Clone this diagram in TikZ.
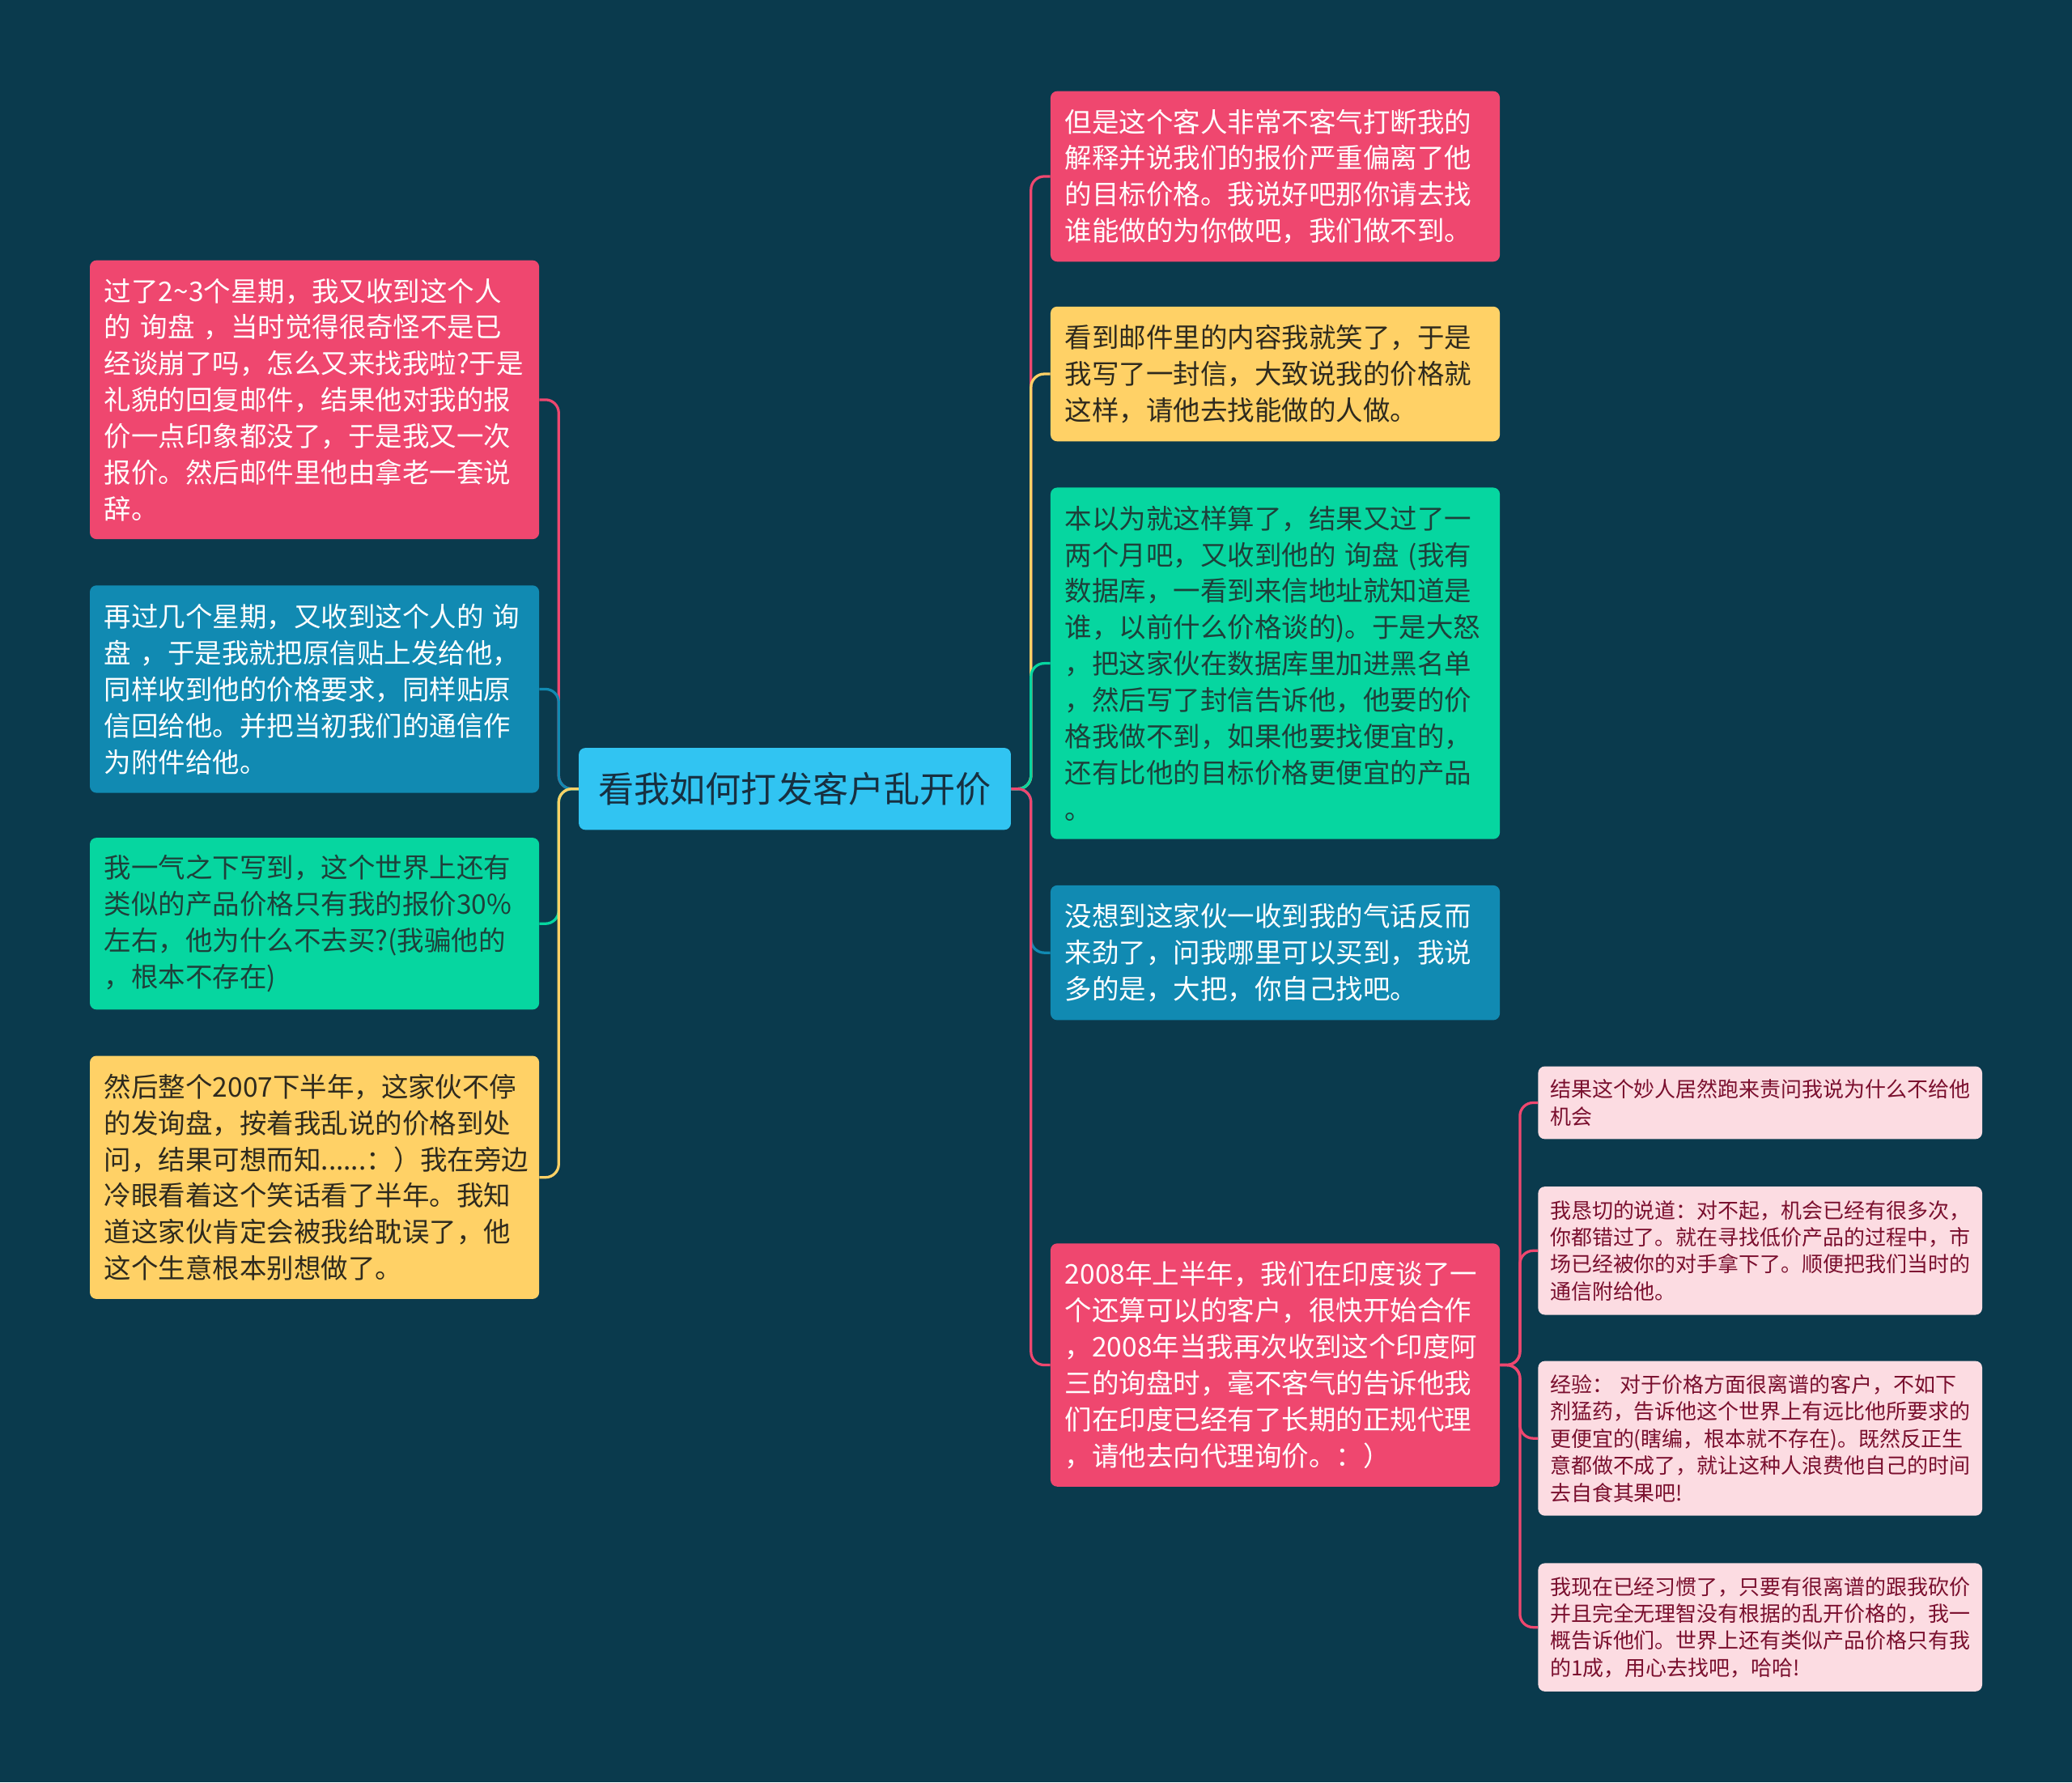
\documentclass[tikz,border=0pt]{standalone}
\usepackage{fontspec}
\setmainfont{Noto Sans CJK SC}
\definecolor{bg}{HTML}{0A3A4D}
\definecolor{cred}{HTML}{EF476F}
\definecolor{cyel}{HTML}{FFD166}
\definecolor{cgrn}{HTML}{06D6A0}
\definecolor{cblu}{HTML}{118AB2}
\definecolor{ccen}{HTML}{31C4F2}
\definecolor{csub}{HTML}{FCDCE2}
\definecolor{tsub}{HTML}{7A0F2E}
\definecolor{tdark}{HTML}{2E2A1E}
\definecolor{tgrn}{HTML}{1E403A}
\definecolor{tcen}{HTML}{173041}
\tikzset{
  box/.style={rounded corners=5pt, inner xsep=11pt, inner ysep=0pt, text width=318pt, align=left,
    font=\fontsize{20.5}{27.5}\selectfont},
  subbox/.style={rounded corners=5pt, inner xsep=9pt, inner ysep=0pt, text width=318pt, align=left,
    fill=csub, text=tsub, font=\fontsize{15.9}{20.5}\selectfont},
  link/.style={line width=2pt, rounded corners=10pt}
}
\begin{document}
\begin{tikzpicture}[x=1pt,y=-1pt]
\useasboundingbox (0,0) rectangle (1568,1349);
\fill[bg] (0,0) rectangle (1568,1349);

% centre
\node[rounded corners=5pt, fill=ccen, text=tcen, minimum width=327pt, minimum height=62pt, inner sep=0pt,
  font=\fontsize{27}{32}\selectfont] (c) at (601.5,597) {看我如何打发客户乱开价};

% left
\node[box, fill=cred, text=white, minimum height=211pt] (l1) at (238,302.5) {过了2\textasciitilde3个星期，我又收到这个人\\
的 询盘 ，当时觉得很奇怪不是已\\
经谈崩了吗，怎么又来找我啦?于是\\
礼貌的回复邮件，结果他对我的报\\
价一点印象都没了，于是我又一次\\
报价。然后邮件里他由拿老一套说\\
辞。};
\node[box, fill=cblu, text=white, minimum height=157pt] (l2) at (238,521.5) {再过几个星期，又收到这个人的 询\\
盘 ，于是我就把原信贴上发给他，\\
同样收到他的价格要求，同样贴原\\
信回给他。并把当初我们的通信作\\
为附件给他。};
\node[box, fill=cgrn, text=tgrn, minimum height=130pt] (l3) at (238,699) {我一气之下写到，这个世界上还有\\
类似的产品价格只有我的报价30\%\\
左右，他为什么不去买?(我骗他的\\
，根本不存在)};
\node[box, fill=cyel, text=tdark, minimum height=184pt] (l4) at (238,891) {然后整个2007下半年，这家伙不停\\
的发询盘，按着我乱说的价格到处\\
问，结果可想而知......：）我在旁边\\
冷眼看着这个笑话看了半年。我知\\
道这家伙肯定会被我给耽误了，他\\
这个生意根本别想做了。};

% right
\node[box, fill=cred, text=white, minimum height=129pt] (r1) at (965,133.5) {但是这个客人非常不客气打断我的\\
解释并说我们的报价严重偏离了他\\
的目标价格。我说好吧那你请去找\\
谁能做的为你做吧，我们做不到。};
\node[box, fill=cyel, text=tdark, minimum height=102pt] (r2) at (965,283) {看到邮件里的内容我就笑了，于是\\
我写了一封信，大致说我的价格就\\
这样，请他去找能做的人做。};
\node[box, fill=cgrn, text=tgrn, minimum height=266pt] (r3) at (965,502) {本以为就这样算了，结果又过了一\\
两个月吧，又收到他的 询盘 (我有\\
数据库，一看到来信地址就知道是\\
谁，以前什么价格谈的)。于是大怒\\
，把这家伙在数据库里加进黑名单\\
，然后写了封信告诉他，他要的价\\
格我做不到，如果他要找便宜的，\\
还有比他的目标价格更便宜的产品\\
。};
\node[box, fill=cblu, text=white, minimum height=102pt] (r4) at (965,721) {没想到这家伙一收到我的气话反而\\
来劲了，问我哪里可以买到，我说\\
多的是，大把，你自己找吧。};
\node[box, fill=cred, text=white, minimum height=184pt] (r5) at (965,1033) {2008年上半年，我们在印度谈了一\\
个还算可以的客户，很快开始合作\\
，2008年当我再次收到这个印度阿\\
三的询盘时，毫不客气的告诉他我\\
们在印度已经有了长期的正规代理\\
，请他去向代理询价。：）};

% sub
\node[subbox, minimum height=55pt] (s1) at (1332,834.5) {结果这个妙人居然跑来责问我说为什么不给他\\
机会};
\node[subbox, minimum height=97pt] (s2) at (1332,946.5) {我恳切的说道：对不起，机会已经有很多次，\\
你都错过了。就在寻找低价产品的过程中，市\\
场已经被你的对手拿下了。顺便把我们当时的\\
通信附给他。};
\node[subbox, minimum height=117pt] (s3) at (1332,1088.5) {经验： 对于价格方面很离谱的客户，不如下\\
剂猛药，告诉他这个世界上有远比他所要求的\\
更便宜的(瞎编，根本就不存在)。既然反正生\\
意都做不成了，就让这种人浪费他自己的时间\\
去自食其果吧!};
\node[subbox, minimum height=97pt] (s4) at (1332,1231.5) {我现在已经习惯了，只要有很离谱的跟我砍价\\
并且完全无理智没有根据的乱开价格的，我一\\
概告诉他们。世界上还有类似产品价格只有我\\
的1成，用心去找吧，哈哈!};

% connectors left
\draw[link, cred] (c.west) -- ++(-15,0) |- (l1.east);
\draw[link, cblu] (c.west) -- ++(-15,0) |- (l2.east);
\draw[link, cgrn] (c.west) -- ++(-15,0) |- (l3.east);
\draw[link, cyel] (c.west) -- ++(-15,0) |- (l4.east);
% connectors right
\draw[link, cred] (c.east) -- ++(15,0) |- (r1.west);
\draw[link, cyel] (c.east) -- ++(15,0) |- (r2.west);
\draw[link, cgrn] (c.east) -- ++(15,0) |- (r3.west);
\draw[link, cblu] (c.east) -- ++(15,0) |- (r4.west);
\draw[link, cred] (c.east) -- ++(15,0) |- (r5.west);
% connectors sub
\draw[link, cred] (r5.east) -- ++(15,0) |- (s1.west);
\draw[link, cred] (r5.east) -- ++(15,0) |- (s2.west);
\draw[link, cred] (r5.east) -- ++(15,0) |- (s3.west);
\draw[link, cred] (r5.east) -- ++(15,0) |- (s4.west);
\end{tikzpicture}
\end{document}
